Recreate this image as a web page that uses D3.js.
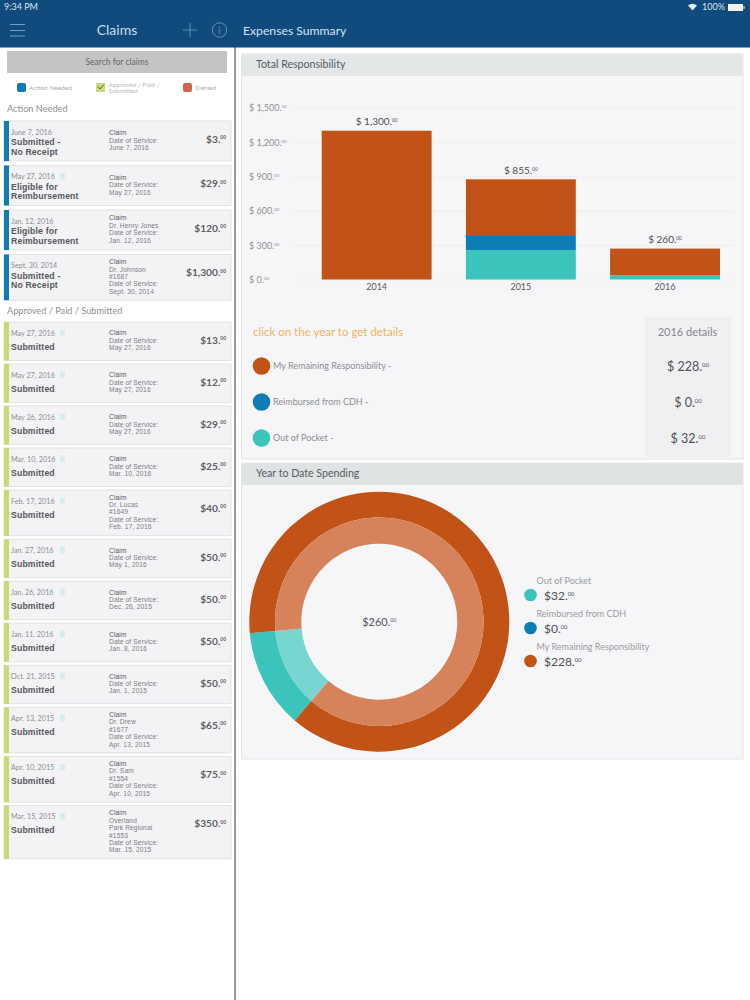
<!DOCTYPE html>
<html>
<head>
<meta charset="utf-8">
<script src="https://cdn.jsdelivr.net/npm/d3@7"></script>
<style>
  body { margin: 0; background: #fff; font-family: Lato, "Open Sans", sans-serif; }
  svg { display: block; }
  .axis path { display: none; }
  .axis line { stroke: #eeeef0; }
  .tight { font-family: "Liberation Sans", sans-serif; letter-spacing: 0.15px; }
</style>
</head>
<body>
<svg id="page" width="750" height="1000"></svg>
<script>
// Bar chart data
const years = ['2014', '2015', '2016'];
const remaining = [1300, 495, 234];
const reimbursed = [0, 122, 0];
const outOfPocket = [0, 258, 36];
const yearTotals = ['1,300', '855', '260'];
const yTicks = [0, 300, 600, 900, 1200, 1500];

// 2016 details and donut
const detailNames = ['My Remaining Responsibility', 'Reimbursed from CDH', 'Out of Pocket'];
const detailValues = [228, 0, 32];
const donutNames = ['Out of Pocket', 'Reimbursed from CDH', 'My Remaining Responsibility'];
const donutValues = [32, 0, 228];

// Claims list
const actionDates = ['June 7, 2016', 'May 27, 2016', 'Jan. 12, 2016', 'Sept. 30, 2014'];
const actionStatus = [['Submitted -', 'No Receipt'], ['Eligible for', 'Reimbursement'], ['Eligible for', 'Reimbursement'], ['Submitted -', 'No Receipt']];
const actionDetails = [
  ['Claim', 'Date of Service:', 'June 7, 2016'],
  ['Claim', 'Date of Service:', 'May 27, 2016'],
  ['Claim', 'Dr. Henry Jones', 'Date of Service:', 'Jan. 12, 2016'],
  ['Claim', 'Dr. Johnson', '#1687', 'Date of Service:', 'Sept. 30, 2014']
];
const actionAmounts = ['3', '29', '120', '1,300'];
const actionDocs = [false, true, false, false];

const approvedDates = ['May 27, 2016', 'May 27, 2016', 'May 26, 2016', 'Mar. 10, 2016', 'Feb. 17, 2016', 'Jan. 27, 2016', 'Jan. 26, 2016', 'Jan. 11, 2016', 'Oct. 21, 2015', 'Apr. 13, 2015', 'Apr. 10, 2015', 'Mar. 15, 2015'];
const approvedDetails = [
  ['Claim', 'Date of Service:', 'May 27, 2016'],
  ['Claim', 'Date of Service:', 'May 27, 2016'],
  ['Claim', 'Date of Service:', 'May 27, 2016'],
  ['Claim', 'Date of Service:', 'Mar. 10, 2016'],
  ['Claim', 'Dr. Lucas', '#1649', 'Date of Service:', 'Feb. 17, 2016'],
  ['Claim', 'Date of Service:', 'May 1, 2016'],
  ['Claim', 'Date of Service:', 'Dec. 26, 2015'],
  ['Claim', 'Date of Service:', 'Jan. 8, 2016'],
  ['Claim', 'Date of Service:', 'Jan. 1, 2015'],
  ['Claim', 'Dr. Drew', '#1677', 'Date of Service:', 'Apr. 13, 2015'],
  ['Claim', 'Dr. Sam', '#1554', 'Date of Service:', 'Apr. 10, 2015'],
  ['Claim', 'Overland', 'Park Regional', '#1553', 'Date of Service:', 'Mar. 15, 2015']
];
const approvedAmounts = ['13', '12', '29', '25', '40', '50', '50', '50', '50', '65', '75', '350'];

const ORANGE = '#c25317', BLUE = '#0f7db5', TEAL = '#3bc4bb';
const seriesColor = {remaining: ORANGE, reimbursed: BLUE, outOfPocket: TEAL};
const detailColors = [ORANGE, BLUE, TEAL];
const donutColors = [TEAL, BLUE, ORANGE];
const donutLight = ['#77d7d0', '#6fb4d6', '#d6835c'];

const svg = d3.select('#page');

function label(parent, x, y, text, size, fill, opts = {}) {
  return parent.append('text')
    .attr('x', x).attr('y', y)
    .attr('font-size', size)
    .attr('fill', fill)
    .attr('font-weight', opts.weight || 400)
    .attr('text-anchor', opts.anchor || 'start')
    .text(text);
}

// text with the little raised cents, like $ 1,300.00
function money(sel, text, size) {
  sel.text(null);
  sel.append('tspan').text(text + '.');
  sel.append('tspan')
    .attr('font-size', size * 0.48)
    .attr('dy', -size * 0.32)
    .text('00');
}

// wrapped text: one text element, one tspan per line
function lines(sel, rows, x, step, firstFill, restFill) {
  sel.text(null);
  rows.forEach((row, i) => {
    sel.append('tspan')
      .attr('x', x)
      .attr('dy', i === 0 ? 0 : step)
      .attr('fill', i === 0 ? firstFill : restFill)
      .text(row);
  });
}

/* ---------- top bar ---------- */
svg.append('rect').attr('width', 750).attr('height', 47.5).attr('fill', '#114a7c');
label(svg, 4, 10, '9:34 PM', 9, '#dbe6ef');
label(svg, 117, 35, 'Claims', 14, '#c9deec', {anchor: 'middle'});
label(svg, 243, 34.5, 'Expenses Summary', 12.2, '#d5e5f0');
[24.5, 30.5, 36].forEach(y => svg.append('line')
  .attr('x1', 10).attr('x2', 25).attr('y1', y).attr('y2', y)
  .attr('stroke', '#6fa0c4').attr('stroke-width', 1));
svg.append('path').attr('d', 'M190 23V37M183 30H197').attr('stroke', '#5f93ba').attr('fill', 'none');
svg.append('circle').attr('cx', 219.5).attr('cy', 30).attr('r', 7.2).attr('stroke', '#5f93ba').attr('fill', 'none');
label(svg, 219.5, 34, 'i', 10, '#5f93ba', {anchor: 'middle'});
// status icons
svg.append('path').attr('d', 'M688 5.5 Q692.5 2 697 5.5 L692.5 10.5 Z').attr('fill', '#e4edf4');
label(svg, 702, 10, '100%', 9, '#dbe6ef');
svg.append('rect').attr('x', 728).attr('y', 4).attr('width', 15).attr('height', 7).attr('fill', '#eef3f7');
svg.append('rect').attr('x', 743.5).attr('y', 6).attr('width', 1).attr('height', 3).attr('fill', '#eef3f7');

// divider between the list and the summary
svg.append('line').attr('x1', 235).attr('x2', 235).attr('y1', 47).attr('y2', 1000)
  .attr('stroke', '#2f3236').attr('stroke-width', 1);

/* ---------- claims list ---------- */
svg.append('rect').attr('x', 7).attr('y', 51).attr('width', 220).attr('height', 22).attr('fill', '#c4c4c4');
label(svg, 117, 65, 'Search for claims', 8.5, '#666', {anchor: 'middle'});

svg.append('rect').attr('x', 17).attr('y', 83).attr('width', 9).attr('height', 9).attr('rx', 2).attr('fill', BLUE);
label(svg, 29, 90, 'Action Needed', 6.5, '#a9b0b5');
svg.append('rect').attr('x', 96).attr('y', 83).attr('width', 9).attr('height', 9).attr('fill', '#c5da7a');
svg.append('path').attr('d', 'M98 86.5L100 89L104 84.5').attr('stroke', '#55692a').attr('fill', 'none');
label(svg, 108.5, 86.5, '', 6.5, '#b5bbbf').call(lines, ['Approved / Paid /', 'Submitted'], 108.5, 6.5, '#b5bbbf', '#b5bbbf');
label(svg, 195.5, 90, 'Denied', 6.5, '#a9b0b5');
svg.append('rect').attr('x', 183).attr('y', 83).attr('width', 9).attr('height', 9).attr('rx', 2).attr('fill', '#d4654a');

label(svg, 7, 112, 'Action Needed', 9.2, '#8d9296');
label(svg, 7, 314, 'Approved / Paid / Submitted', 9.2, '#8d9296');

const lineHeight = 7.45;

function drawCard(top, c, stripe) {
  const n = c.details.length;
  const h = Math.max(c.status.length === 2 ? 40 : 38.5, 8.2 + 7.5 * n);
  const g = svg.append('g').attr('transform', `translate(0,${top})`);
  g.append('rect').attr('x', 4).attr('width', 227).attr('height', h)
    .attr('fill', '#f3f3f5').attr('stroke', '#dcdde0').attr('stroke-width', 0.8);
  g.append('rect').attr('x', 4).attr('width', 5).attr('height', h).attr('fill', stripe);

  label(g, 11, 13.5, c.date, 7.2, '#8c8f93');
  if (c.doc) {
    g.append('rect').attr('x', 60).attr('y', 7.5).attr('width', 5).attr('height', 6.5).attr('fill', '#d8ece8');
  }
  const statusY = c.status.length === 2 ? 24 : 27.5;
  label(g, 11, statusY, '', 8.7, '#55585c', {weight: 700})
    .attr('class', 'tight')
    .call(lines, c.status, 11, 9.8, '#55585c', '#55585c');
  const first = h / 2 - (n - 1) / 2 * lineHeight + 1.6;
  label(g, 109, first, '', 6.6, '#55585c')
    .attr('class', 'tight')
    .call(lines, c.details, 109, lineHeight, '#55585c', '#7a7d82');
  label(g, 226, 21.5, '', 10.2, '#5c5f63', {weight: 700, anchor: 'end'})
    .call(money, '$' + c.amount, 10.2);
  return h;
}

let cardTop = 121;
actionDates.forEach((date, i) => {
  const h = drawCard(cardTop, {date, status: actionStatus[i], details: actionDetails[i], amount: actionAmounts[i], doc: actionDocs[i]}, BLUE);
  cardTop += h + 4.5;
});
cardTop = 322;
approvedDates.forEach((date, i) => {
  const h = drawCard(cardTop, {date, status: ['Submitted'], details: approvedDetails[i], amount: approvedAmounts[i], doc: true}, '#c9da74');
  cardTop += h + 3.5;
});

/* ---------- panels ---------- */
function panel(y, h, title, headFill) {
  svg.append('rect').attr('x', 241.5).attr('y', y).attr('width', 501.5).attr('height', h)
    .attr('fill', '#f6f6f8').attr('stroke', '#dcdfe2').attr('stroke-width', 0.8);
  svg.append('rect').attr('x', 241.5).attr('y', y).attr('width', 501.5).attr('height', 22).attr('fill', headFill);
  label(svg, 256, y + 14, title, 10.6, '#555a5e');
}
panel(54, 405, 'Total Responsibility', '#e4e7e8');
panel(463, 296, 'Year to Date Spending', '#dfe3e3');

/* ---------- stacked bars ---------- */
const table = years.map((year, i) => ({year, outOfPocket: outOfPocket[i], reimbursed: reimbursed[i], remaining: remaining[i]}));
const stack = d3.stack().keys(['outOfPocket', 'reimbursed', 'remaining']);

const xScale = d3.scaleBand().domain(years).range([321.7, 720]).paddingInner(0.238).paddingOuter(0);
const yScale = d3.scaleLinear().domain([0, 1500]).range([279.5, 107.8]);

const yAxis = d3.axisLeft(yScale).tickValues(yTicks).tickSize(-440).tickPadding(0).tickFormat(d3.format(','));
const yAxisG = svg.append('g').attr('class', 'axis y-axis')
  .attr('transform', 'translate(295,0)')
  .call(yAxis);
yAxisG.selectAll('text')
  .attr('x', -46).attr('text-anchor', 'start').attr('fill', '#8f9296')
  .style('font-size', '9px').style('font-family', 'Lato')
  .each(function(d) { money(d3.select(this), '$ ' + d3.format(',')(d), 9); });

const xAxis = d3.axisBottom(xScale).tickSize(0).tickPadding(4.5);
svg.append('g').attr('class', 'axis x-axis')
  .attr('transform', 'translate(0,279.5)')
  .call(xAxis)
  .selectAll('text')
  .attr('fill', '#55585c').style('font-size', '9px').style('font-family', 'Lato');

svg.append('g').selectAll('g')
  .data(stack(table))
  .join('g')
  .attr('fill', d => seriesColor[d.key])
  .selectAll('rect')
  .data(d => d)
  .join('rect')
  .attr('x', d => xScale(d.data.year))
  .attr('y', d => yScale(d[1]))
  .attr('width', xScale.bandwidth())
  .attr('height', d => yScale(d[0]) - yScale(d[1]));

years.forEach((year, i) => {
  const top = remaining[i] + reimbursed[i] + outOfPocket[i];
  label(svg, xScale(year) + xScale.bandwidth() / 2, yScale(top) - 5.5, '', 10, '#4d5054', {anchor: 'middle'})
    .call(money, '$ ' + yearTotals[i], 10);
});

/* ---------- 2016 details ---------- */
svg.append('rect').attr('x', 645).attr('y', 317).attr('width', 86).attr('height', 140).attr('fill', '#f0f0f2');
label(svg, 253, 336, 'click on the year to get details', 11.5, '#eeb45c');
label(svg, 687.5, 336, '2016 details', 11, '#85888c', {anchor: 'middle'});

const detailY = d3.scalePoint().domain(detailNames).range([366, 438]);
detailNames.forEach((name, i) => {
  const y = detailY(name);
  svg.append('circle').attr('cx', 261.5).attr('cy', y).attr('r', 8.8).attr('fill', detailColors[i]);
  label(svg, 273, y + 3, name + ' -', 9, '#8b8e92');
  label(svg, 688, y + 4.5, '', 12.5, '#4d5054', {anchor: 'middle'})
    .call(money, '$ ' + detailValues[i], 12.5);
});

/* ---------- donut ---------- */
const pie = d3.pie().sort(null)
  .startAngle(220.6 * Math.PI / 180)
  .endAngle(580.6 * Math.PI / 180);
const arcOuter = d3.arc().innerRadius(104.3).outerRadius(130);
const arcInner = d3.arc().innerRadius(78).outerRadius(104.3);
const donut = svg.append('g').attr('transform', 'translate(379.3,621.7)');

donut.selectAll('.outer').data(pie(donutValues)).join('path')
  .attr('class', 'outer').attr('d', arcOuter).attr('fill', (d, i) => donutColors[i]);
donut.selectAll('.inner').data(pie(donutValues)).join('path')
  .attr('class', 'inner').attr('d', arcInner).attr('fill', (d, i) => donutLight[i]);

label(donut, 0, 4, '', 11, '#55585c', {anchor: 'middle'})
  .call(money, '$' + d3.sum(donutValues), 11);

const donutY = d3.scalePoint().domain(donutNames).range([595, 661]);
donutNames.forEach((name, i) => {
  const y = donutY(name);
  svg.append('circle').attr('cx', 530.5).attr('cy', y).attr('r', 6.3).attr('fill', donutColors[i]);
  label(svg, 536.5, y - 11.5, name, 9, '#999ca0');
  label(svg, 544, y + 4.5, '', 12, '#4d5054').call(money, '$' + donutValues[i], 12);
});
</script>
</body>
</html>
